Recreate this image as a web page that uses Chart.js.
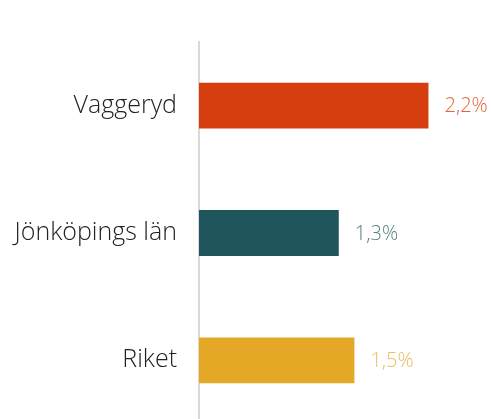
<!DOCTYPE html>
<html>
<head>
<meta charset="utf-8">
<script src="https://cdn.jsdelivr.net/npm/chart.js@4/dist/chart.umd.min.js"></script>
<style>
  html, body { margin: 0; padding: 0; background: #fff; overflow: hidden; }
  canvas { display: block; }
</style>
</head>
<body>
<canvas id="myChart" width="492" height="424"></canvas>
<script>
var categories = ['Vaggeryd', 'Jönköpings län', 'Riket'];
var values = [2.2, 1.34, 1.49];
var barColors = ['#D63E0F', '#1F565E', '#E4A826'];
var labelColors = ['#E2643A', '#527E84', '#EBBE5C'];

// value labels to the right of each bar
var valueLabels = {
	id: 'valueLabels',
	afterDatasetsDraw: function(chart) {
		var ctx = chart.ctx;
		var meta = chart.getDatasetMeta(0);
		ctx.save();
		ctx.font = '300 20px "Open Sans"';
		ctx.textBaseline = 'middle';
		ctx.textAlign = 'left';
		meta.data.forEach(function(bar, i) {
			ctx.fillStyle = labelColors[i];
			var txt = values[i].toFixed(1).replace('.', ',') + '%';
			ctx.fillText(txt, bar.x + 16, bar.y + 1);
		});
		ctx.restore();
	}
};

var ctx = document.getElementById('myChart').getContext('2d');
var myChart = new Chart(ctx, {
	type: 'bar',
	data: {
		labels: categories,
		datasets: [{
			data: values,
			backgroundColor: barColors,
			barPercentage: 0.36,
			categoryPercentage: 1
		}]
	},
	options: {
		indexAxis: 'y',
		responsive: false,
		animation: false,
		layout: { padding: { top: 42, right: 2, left: 0, bottom: 0 } },
		plugins: {
			legend: { display: false },
			tooltip: { enabled: false }
		},
		scales: {
			x: {
				display: false,
				min: 0,
				max: 2.79
			},
			y: {
				afterFit: function(scale) {
					scale.width = 199;
					scale.paddingTop = 0;
					scale.paddingBottom = 0;
				},
				grid: { display: false, drawTicks: false },
				border: { display: true, color: '#D9D9D9', width: 2 },
				ticks: {
					color: '#222222',
					padding: 22,
					font: { family: '"Open Sans"', size: 25, weight: 300 }
				}
			}
		}
	},
	plugins: [valueLabels]
});
</script>
</body>
</html>
